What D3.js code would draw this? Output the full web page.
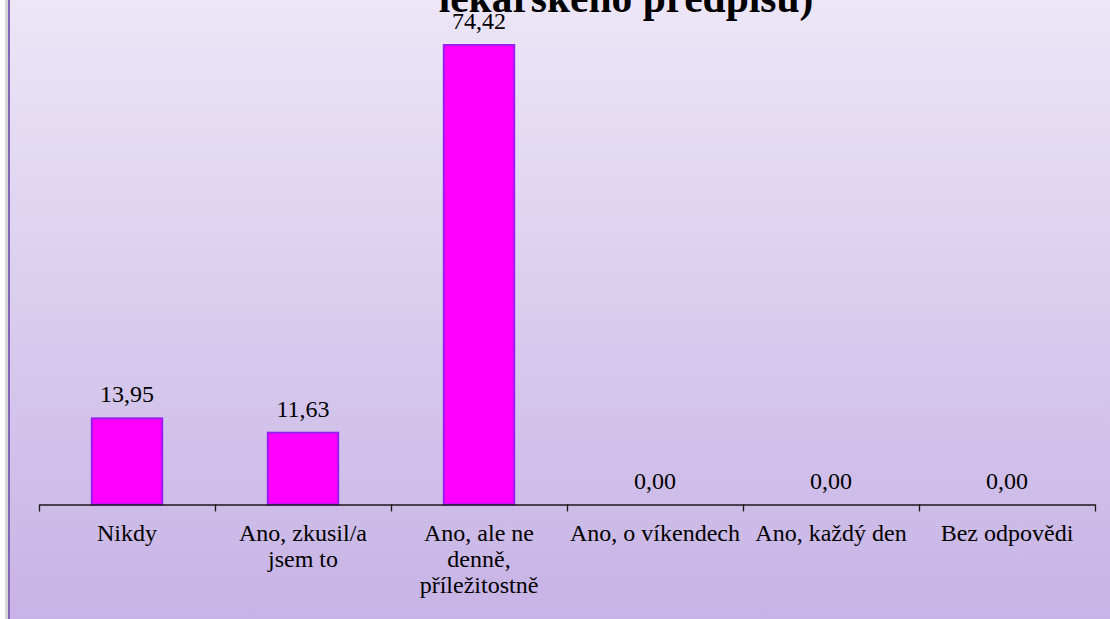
<!DOCTYPE html>
<html>
<head>
<meta charset="utf-8">
<script src="https://cdn.jsdelivr.net/npm/d3@7"></script>
<style>
  html, body { margin: 0; padding: 0; background: #ffffff; }
</style>
</head>
<body>
<div id="chart"></div>
<script>
var svgWidth = 1110;
var svgHeight = 619;
var fontFace = "Liberation Serif";

// data
var categories = ["Nikdy", "Ano, zkusil/a jsem to", "Ano, ale ne denně, příležitostně",
  "Ano, o víkendech", "Ano, každý den", "Bez odpovědi"];
var tickLabels = [["Nikdy"], ["Ano, zkusil/a", "jsem to"], ["Ano, ale ne", "denně,", "příležitostně"],
  ["Ano, o víkendech"], ["Ano, každý den"], ["Bez odpovědi"]];
var values = [13.95, 11.63, 74.42, 0, 0, 0];
var titleLine = "lékařského předpisu)";

var plot = { left: 39, right: 1095, top: 10.6, bottom: 504.5 };

var svg = d3.select("#chart")
  .append("svg")
  .attr("width", svgWidth)
  .attr("height", svgHeight)
  .attr("font-family", fontFace);

// background gradient
var defs = svg.append("defs");
var grad = defs.append("linearGradient")
  .attr("id", "bg")
  .attr("x1", 0).attr("y1", 0).attr("x2", 0).attr("y2", 1);
grad.append("stop").attr("offset", "0%").attr("stop-color", "#ece6f7");
grad.append("stop").attr("offset", "100%").attr("stop-color", "#c7b3e5");

svg.append("rect")
  .attr("x", 0).attr("y", 0)
  .attr("width", svgWidth).attr("height", svgHeight)
  .attr("fill", "#ffffff");

svg.append("rect")
  .attr("x", 5).attr("y", 0)
  .attr("width", 3).attr("height", svgHeight)
  .attr("fill", "#d8d8d8");

svg.append("rect")
  .attr("x", 8).attr("y", 0)
  .attr("width", svgWidth - 8).attr("height", svgHeight)
  .attr("fill", "url(#bg)");

svg.append("rect")
  .attr("x", 8).attr("y", 0)
  .attr("width", 2).attr("height", svgHeight)
  .attr("fill", "#8466b8");

// scales
var x = d3.scaleBand()
  .domain(categories)
  .range([plot.left, plot.right])
  .paddingInner(0.6)
  .paddingOuter(0.3);

var xTicks = d3.scaleLinear()
  .domain([0, categories.length])
  .range([plot.left, plot.right]);

var y = d3.scaleLinear()
  .domain([0, 80])
  .range([plot.bottom, plot.top]);

// title (only its last line is visible)
svg.append("text")
  .attr("x", 626)
  .attr("y", 12)
  .attr("text-anchor", "middle")
  .attr("font-family", fontFace)
  .attr("font-size", 41.5)
  .attr("font-weight", "bold")
  .attr("fill", "#000")
  .text(titleLine);

// bars
svg.selectAll("rect.bar")
  .data(values)
  .enter()
  .append("rect")
  .attr("class", "bar")
  .attr("x", (d, i) => x(categories[i]))
  .attr("y", d => y(d))
  .attr("width", x.bandwidth())
  .attr("height", d => y(0) - y(d))
  .attr("fill", "#ff00ff")
  .attr("stroke", "#9a1cf0")
  .attr("stroke-width", 2)
  .style("display", d => d > 0 ? null : "none");

// value labels
svg.selectAll("text.value")
  .data(values)
  .enter()
  .append("text")
  .attr("class", "value")
  .attr("x", (d, i) => x(categories[i]) + x.bandwidth() / 2)
  .attr("y", d => y(d) - 16)
  .attr("text-anchor", "middle")
  .attr("font-family", fontFace)
  .attr("font-size", 24)
  .attr("fill", "#000")
  .text(d => d3.format(".2f")(d).replace(".", ","));

// x axis, ticks between categories
var xAxis = svg.append("g")
  .attr("transform", `translate(0, ${plot.bottom})`)
  .call(d3.axisBottom(xTicks)
    .tickValues(d3.range(categories.length + 1))
    .tickSize(7)
    .tickSizeOuter(0)
    .tickFormat(""));

xAxis.select(".domain").attr("stroke", "#1a1a1a").attr("stroke-width", 1.3);
xAxis.selectAll(".tick line").attr("stroke", "#1a1a1a").attr("stroke-width", 1.3);

// category labels
var catGroup = svg.append("g");
tickLabels.forEach(function(lines, i) {
  var cx = x(categories[i]) + x.bandwidth() / 2;
  var t = catGroup.append("text")
    .attr("x", cx)
    .attr("y", 540.5)
    .attr("text-anchor", "middle")
    .attr("font-family", fontFace)
    .attr("font-size", 24)
    .attr("fill", "#000");
  lines.forEach(function(line, j) {
    t.append("tspan")
      .attr("x", cx)
      .attr("dy", j === 0 ? 0 : 26.4)
      .text(line);
  });
});
</script>
</body>
</html>
